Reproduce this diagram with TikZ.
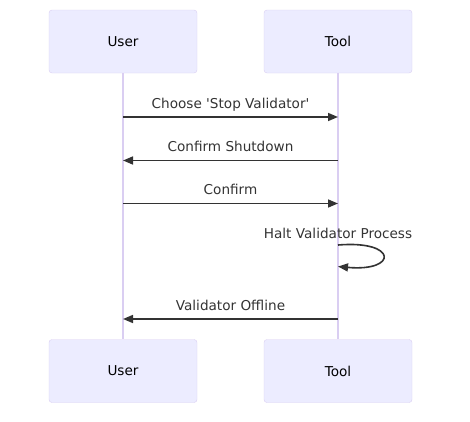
\documentclass[tikz,border=0pt]{standalone}
\usepackage{fontspec}
\setmainfont{DejaVu Sans}
\usepackage{tikz}
\usetikzlibrary{arrows.meta}
\definecolor{actorfill}{HTML}{ECECFF}
\definecolor{actorline}{HTML}{DACEF2}
\definecolor{msgcol}{HTML}{333333}

\begin{document}
\begin{tikzpicture}[x=1pt, y=-1pt, node distance={215pt},
  actor/.style = {draw=actorline, fill=actorfill, rounded corners=3pt, minimum width=148pt, minimum height=63pt, font=\fontsize{13.6}{16}\selectfont},
  life/.style = {draw=actorline, line width=1.5pt},
  msg/.style = {draw=msgcol, line width=1.6pt, -{Triangle[length=10pt,width=8pt]}},
  lbl/.style = {text=msgcol, font=\fontsize{13.6}{16}\selectfont, anchor=base}]
\useasboundingbox (0,0) rectangle (470,421);
\node[actor] (1) at (123,41.5) {User};
\node[actor] (2) [right of=1] {Tool};
\node[actor] (3) [below of=1, node distance=329.5pt] {User};
\node[actor] (4) [right of=3] {Tool};
\draw[life] (1) -- (3);
\draw[life] (2) -- (4);
\draw[msg] (1 |- 0,117) -- node[lbl, yshift=9pt] {Choose \textquotesingle Stop Validator\textquotesingle} (2 |- 0,117);
\draw[msg] (2 |- 0,160.5) -- node[lbl, yshift=9pt] {Confirm Shutdown} (1 |- 0,160.5);
\draw[msg] (1 |- 0,203.5) -- node[lbl, yshift=9pt] {Confirm} (2 |- 0,203.5);
\draw[msg] (2 |- 0,245) node[lbl, yshift=7pt] {Halt Validator Process}
  .. controls (398,240) and (398,272) .. (2 |- 0,266.5);
\draw[msg] (2 |- 0,319) -- node[lbl, yshift=9pt] {Validator Offline} (1 |- 0,319);
\end{tikzpicture}
\end{document}
